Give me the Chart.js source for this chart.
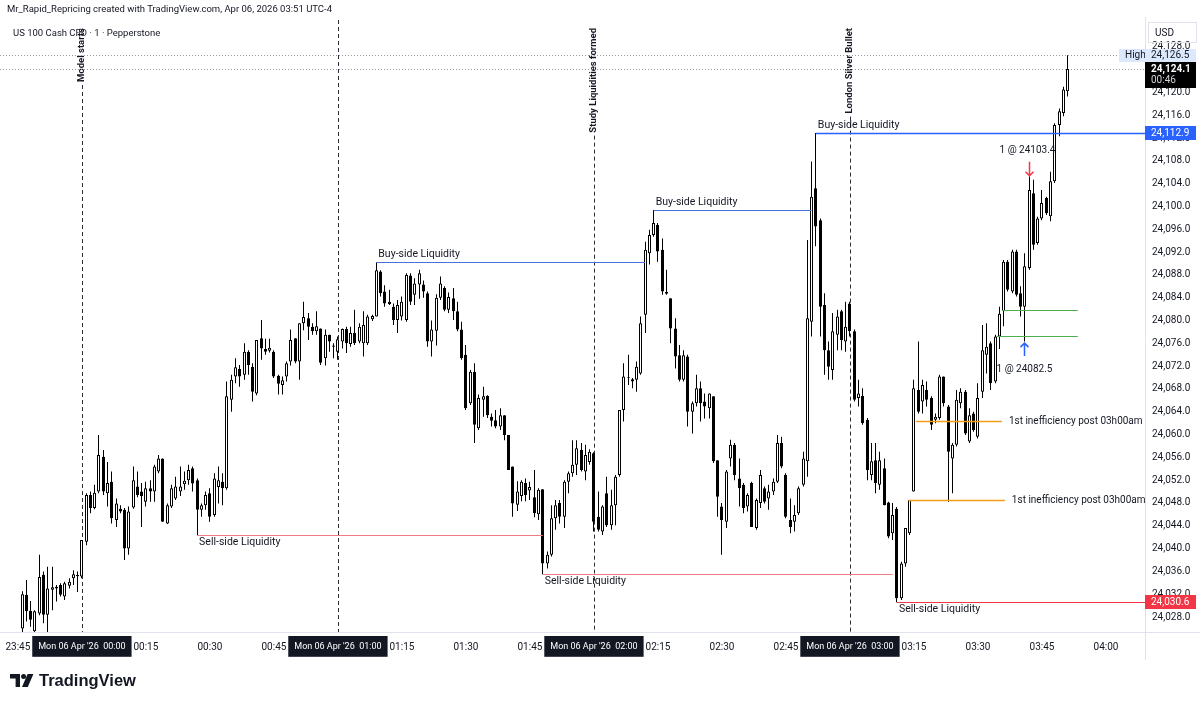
<!DOCTYPE html>
<html><head><meta charset="utf-8">
<script src="https://cdn.jsdelivr.net/npm/chart.js@4.4.1/dist/chart.umd.min.js"></script>
<style>
html,body{margin:0;padding:0;background:#fff;width:1200px;height:703px;overflow:hidden}
#wrap{position:relative;width:1200px;height:703px}
canvas{position:absolute;left:0;top:0}
.t{position:absolute;font-family:Roboto,sans-serif;color:#131722;white-space:nowrap;font-size:9.5px;line-height:12px}
.logo{position:absolute;left:10px;top:671px;display:flex;align-items:center;gap:5px;font-family:"Liberation Sans",Arial,sans-serif;font-weight:bold;font-size:16.5px;color:#131722}
</style></head><body>
<div id="wrap">
<canvas id="c" width="1200" height="703"></canvas>
<div class="t" style="left:7px;top:3px">Mr_Rapid_Repricing created with TradingView.com, Apr 06, 2026 03:51 UTC-4</div>
<div class="t" style="left:13px;top:27px">US 100 Cash CFD · 1 · Pepperstone</div>
<div class="logo"><svg width="24" height="17" viewBox="0 0 24 17"><path d="M0 2H10V15H5.6V6.4H0Z" fill="#131722"/><circle cx="13.6" cy="4.6" r="2.5" fill="#131722"/><path d="M17.6 2H23.4L17.8 15H12Z" fill="#131722"/></svg><span>TradingView</span></div>
</div>
<script>
// ---- data: one-minute candles, minutes counted from 23:45 ----
const firstMinute = 1;
const open = [
24026.0,24031.9,24029.1,24025.5,24028.6,24035.4,24028.4,24032.8,24033.0,24033.6,
24031.6,24033.5,24034.8,24035.2,24035.1,24041.2,24049.4,24047.1,24050.0,24056.1,
24049.7,24051.7,24045.0,24047.0,24046.8,24040.0,24047.2,24050.9,24050.0,24048.2,
24050.6,24050.0,24053.5,24055.8,24044.4,24047.4,24048.8,24050.0,24051.3,24052.0,
24054.1,24052.0,24046.8,24047.6,24049.7,24045.9,24050.8,24051.7,24050.6,24066.1,
24070.2,24071.5,24070.5,24074.5,24071.9,24067.2,24076.9,24075.0,24074.7,24074.5,
24070.3,24068.7,24070.2,24072.8,24076.9,24072.8,24079.5,24080.4,24078.9,24078.1,
24078.6,24073.4,24077.5,24075.6,24074.5,24076.3,24078.5,24075.9,24077.8,24076.3,
24076.0,24076.0,24080.2,24080.7,24088.6,24085.1,24083.3,24082.4,24080.1,24080.7,
24080.1,24087.9,24084.5,24086.3,24086.3,24084.8,24076.3,24078.2,24084.0,24085.7,
24081.9,24083.9,24081.6,24078.4,24074.0,24065.5,24071.0,24061.1,24066.1,24066.8,
24063.1,24062.5,24061.4,24063.4,24059.9,24054.4,24047.7,24049.2,24051.5,24050.2,
24049.0,24046.0,24050.4,24037.4,24038.9,24045.3,24048.0,24045.6,24051.7,24053.2,
24054.7,24057.3,24053.5,24055.2,24056.7,24045.6,24043.0,24049.7,24044.1,24047.6,
24052.9,24064.3,24070.0,24069.7,24069.6,24070.7,24081.0,24091.8,24095.0,24096.8,
24092.4,24085.0,24083.9,24078.6,24073.9,24069.6,24073.7,24064.0,24065.5,24068.1,
24065.8,24064.6,24066.7,24055.5,24047.4,24044.7,24055.8,24058.2,24052.3,24051.2,
24047.4,24051.5,24043.6,24048.0,24050.6,24048.8,24050.0,24051.7,24058.5,24052.9,
24045.0,24044.7,24046.2,24051.2,24055.3,24079.8,24103.2,24097.6,24082.7,24074.8,
24071.3,24077.5,24081.6,24076.3,24083.0,24078.1,24066.4,24066.8,24062.6,24052.9,
24055.5,24051.2,24054.1,24048.1,24042.7,24047.0,24031.3,24037.4,24042.7,24050.0,
24067.8,24065.8,24067.8,24066.4,24062.6,24062.9,24070.2,24064.9,24055.8,24058.2,
24065.5,24067.5,24058.8,24063.7,24059.6,24067.5,24074.0,24076.0,24069.3,24077.2,
24081.6,24090.3,24085.1,24092.1,24084.8,24082.4,24089.2,24102.3,24093.6,24097.9,
24101.5,24098.3,24104.4,24114.3,24116.4,24120.2];
const high = [
24032.5,24034.5,24030.8,24029.2,24038.9,24036.0,24036.8,24036.8,24033.6,24033.9,
24034.2,24034.8,24036.2,24036.0,24041.5,24049.7,24050.0,24051.2,24059.9,24057.3,
24055.2,24053.5,24048.8,24047.6,24047.1,24047.4,24054.4,24053.5,24051.5,24051.7,
24052.0,24054.7,24056.4,24055.8,24047.9,24051.2,24052.6,24054.4,24053.5,24054.7,
24054.4,24052.3,24047.9,24050.0,24050.6,24053.2,24054.4,24053.2,24069.3,24070.5,
24073.4,24072.2,24076.0,24074.8,24072.5,24076.6,24080.1,24076.8,24076.8,24074.8,
24070.5,24070.2,24072.8,24078.4,24076.9,24079.5,24083.3,24081.3,24079.5,24081.6,
24078.6,24078.4,24077.5,24076.0,24077.2,24078.6,24078.9,24078.9,24081.9,24079.5,
24081.6,24081.0,24081.0,24090.2,24088.8,24086.2,24085.4,24083.0,24083.6,24084.2,
24088.3,24088.3,24087.4,24088.9,24087.0,24085.1,24080.0,24084.6,24087.7,24086.0,
24084.9,24085.7,24083.3,24079.8,24075.7,24071.3,24072.5,24067.0,24068.4,24066.9,
24063.7,24064.3,24064.6,24063.4,24059.9,24054.4,24051.8,24052.0,24052.3,24051.7,
24053.8,24050.6,24050.4,24039.5,24047.6,24048.5,24048.5,24052.0,24053.5,24059.0,
24059.0,24058.5,24058.2,24057.4,24056.9,24050.0,24047.6,24052.6,24050.3,24052.9,
24064.3,24072.5,24074.0,24069.9,24072.8,24080.7,24093.8,24095.9,24099.4,24097.1,
24094.4,24088.9,24083.9,24080.4,24075.7,24074.8,24074.0,24065.8,24070.5,24069.3,
24067.2,24067.2,24066.7,24055.5,24048.0,24053.8,24059.1,24058.5,24055.8,24051.5,
24049.7,24051.7,24048.8,24053.8,24050.9,24051.2,24052.3,24059.9,24059.6,24053.2,
24048.8,24047.6,24050.9,24057.0,24094.1,24107.9,24112.9,24097.9,24084.8,24076.3,
24081.3,24081.9,24081.9,24083.3,24083.3,24078.4,24069.6,24068.1,24062.9,24058.5,
24058.5,24057.0,24055.8,24048.2,24048.0,24047.3,24037.7,24043.6,24048.5,24069.6,
24076.3,24069.6,24069.3,24066.7,24063.7,24070.5,24070.2,24065.2,24058.5,24067.8,
24068.1,24067.8,24064.6,24064.0,24069.0,24079.2,24079.5,24076.3,24077.5,24082.4,
24090.6,24090.6,24092.4,24092.4,24086.0,24091.8,24105.3,24104.7,24098.2,24102.9,
24101.7,24106.1,24114.6,24117.2,24121.0,24126.5];
const low = [
24025.0,24027.2,24026.3,24025.0,24028.3,24026.9,24025.0,24029.2,24030.7,24031.6,
24031.0,24033.0,24033.6,24032.4,24034.8,24040.6,24046.2,24046.9,24049.7,24049.4,
24047.4,24044.4,24043.8,24046.2,24038.0,24038.9,24047.0,24049.0,24043.8,24047.4,
24048.2,24048.2,24053.2,24044.7,24044.3,24047.1,24048.5,24049.2,24050.3,24051.2,
24050.0,24042.4,24045.6,24046.8,24044.7,24045.6,24047.9,24047.6,24050.3,24064.0,
24069.0,24068.4,24069.6,24070.5,24065.8,24066.9,24073.1,24074.0,24074.4,24069.9,
24067.0,24067.0,24069.3,24072.1,24072.5,24069.6,24078.3,24076.6,24077.5,24077.5,
24072.2,24072.1,24074.5,24073.4,24073.1,24075.1,24074.3,24075.4,24075.7,24076.0,
24073.7,24075.7,24079.9,24080.7,24084.2,24082.4,24082.7,24079.2,24077.8,24080.0,
24079.8,24082.7,24082.7,24083.8,24084.0,24075.4,24073.7,24075.6,24083.6,24081.6,
24081.3,24080.1,24078.1,24073.1,24064.3,24065.2,24058.5,24060.8,24063.1,24062.9,
24061.4,24061.1,24060.8,24059.0,24053.8,24045.6,24046.6,24048.3,24048.3,24048.5,
24045.5,24045.0,24035.5,24036.5,24038.6,24043.3,24044.4,24043.6,24049.7,24052.6,
24052.9,24053.5,24052.0,24054.7,24043.0,24043.0,24042.4,24043.8,24043.3,24044.1,
24052.6,24062.3,24068.7,24068.1,24067.5,24070.5,24077.8,24089.8,24094.7,24090.3,
24084.5,24084.5,24076.0,24071.6,24069.3,24069.3,24061.4,24060.2,24064.9,24062.3,
24062.8,24062.8,24055.0,24045.6,24038.9,24043.6,24054.4,24052.0,24047.4,24046.2,
24046.5,24043.8,24043.3,24047.1,24047.9,24046.8,24049.4,24051.5,24054.1,24045.3,
24042.7,24043.0,24045.9,24050.9,24052.6,24077.2,24093.0,24077.2,24070.5,24069.6,
24069.6,24074.8,24074.8,24074.5,24077.2,24065.8,24064.9,24061.7,24052.0,24052.0,
24049.7,24050.3,24047.6,24041.8,24041.5,24030.6,24031.0,24036.8,24042.4,24050.0,
24063.7,24063.7,24064.9,24060.8,24062.0,24062.6,24064.9,24048.2,24049.7,24057.9,
24064.6,24059.9,24058.5,24060.5,24059.3,24066.4,24070.7,24067.8,24069.0,24075.0,
24079.0,24085.1,24084.8,24084.2,24080.7,24076.3,24088.9,24092.4,24093.3,24097.6,
24098.5,24097.4,24104.1,24112.3,24115.8,24119.3];
const close = [
24032.0,24029.0,24027.5,24029.0,24035.0,24028.4,24033.0,24033.2,24033.3,24031.9,
24033.9,24034.2,24035.5,24035.3,24041.5,24049.4,24047.1,24049.8,24056.4,24050.0,
24051.5,24045.3,24047.9,24046.5,24040.0,24046.5,24052.0,24049.4,24049.2,24050.6,
24050.0,24054.4,24055.8,24044.7,24047.6,24050.6,24050.9,24050.9,24051.9,24053.8,
24051.4,24046.8,24047.6,24049.4,24045.6,24052.3,24052.0,24050.6,24066.7,24069.6,
24071.8,24070.2,24074.5,24072.2,24067.5,24076.6,24075.1,24074.5,24075.2,24070.2,
24068.9,24069.5,24072.5,24076.6,24072.8,24079.5,24080.6,24078.9,24078.1,24079.0,
24072.6,24077.5,24076.3,24075.4,24076.7,24078.5,24076.0,24077.8,24076.0,24078.9,
24079.2,24080.7,24080.8,24088.8,24084.8,24083.0,24082.9,24080.1,24082.7,24083.3,
24088.0,24083.3,24086.5,24088.3,24085.1,24076.3,24078.4,24084.0,24086.5,24081.9,
24084.1,24081.6,24078.4,24073.4,24064.6,24071.0,24061.7,24066.4,24066.7,24063.4,
24062.4,24061.4,24063.4,24059.9,24053.8,24047.9,24050.0,24051.7,24049.4,24050.8,
24046.2,24050.3,24037.4,24038.9,24045.3,24047.6,24045.6,24051.7,24053.2,24054.7,
24057.6,24053.8,24056.4,24057.0,24044.7,24043.3,24047.4,24044.1,24047.6,24052.6,
24064.3,24070.2,24069.9,24069.3,24071.9,24079.5,24092.4,24095.0,24097.1,24092.1,
24085.1,24084.7,24078.6,24073.7,24069.6,24073.9,24064.0,24065.5,24068.1,24065.5,
24064.9,24067.2,24055.3,24049.1,24045.0,24053.5,24058.2,24052.9,24050.6,24047.1,
24049.4,24043.8,24048.5,24052.9,24048.2,24050.0,24051.7,24058.5,24054.4,24045.6,
24043.8,24045.9,24050.6,24055.8,24080.4,24101.7,24096.5,24082.4,24074.8,24071.9,
24078.1,24080.7,24076.6,24078.9,24078.1,24066.1,24067.2,24062.0,24053.8,24055.3,
24051.5,24055.5,24047.6,24042.1,24045.9,24031.3,24037.4,24043.6,24048.5,24068.1,
24064.0,24068.7,24066.1,24061.7,24063.1,24070.2,24065.5,24057.0,24058.2,24066.1,
24067.5,24060.2,24063.4,24060.8,24066.4,24074.8,24075.4,24069.0,24077.2,24081.2,
24090.3,24085.4,24092.1,24084.5,24082.4,24089.5,24102.9,24093.3,24097.9,24100.6,
24098.8,24104.4,24114.3,24116.7,24120.5,24124.1];

// ---- axes ----
const tickMinutes = [0,15,30,45,60,75,90,105,120,135,150,165,180,195,210,225,240,255];
const tickLabels = ['23:45',"Mon 06 Apr '26  00:00",'00:15','00:30','00:45',"Mon 06 Apr '26  01:00",'01:15','01:30','01:45',"Mon 06 Apr '26  02:00",'02:15','02:30','02:45',"Mon 06 Apr '26  03:00",'03:15','03:30','03:45','04:00'];
const tickBoxed = [false,true,false,false,false,true,false,false,false,true,false,false,false,true,false,false,false,false];
const priceTicks = [24028,24032,24036,24040,24044,24048,24052,24056,24060,24064,24068,24072,24076,24080,24084,24088,24092,24096,24100,24104,24108,24112,24116,24120,24124,24128];

// ---- annotations ----
const sessionMinute = [15, 75, 135, 195];
const sessionNote = ['Model starts', '', 'Study Liquidities formed', 'London Silver Bullet'];
const levelSide  = ['buy','buy','buy','sell','sell','sell'];
const levelPrice = [24090.2, 24099.4, 24112.9, 24042.4, 24035.5, 24030.6];
const levelFrom  = [84, 149, 187, 42, 123, 206];
const levelTo    = [147, 186, null, 123, 205, null];
const levelLabel = ['Buy-side Liquidity','Buy-side Liquidity','Buy-side Liquidity','Sell-side Liquidity','Sell-side Liquidity','Sell-side Liquidity'];
const ineffPrice = [24062.3, 24048.5];
const ineffFrom  = [210.5, 208.7];
const ineffTo    = [230.6, 231.3];
const ineffLabel = ['1st inefficiency post 03h00am', '1st inefficiency post 03h00am'];
const greenPrice = [24081.9, 24077.3];
const greenFrom  = [230.6, 229.4];
const greenTo    = [248.4, 248.4];
const tradeMinute = [237, 236];
const tradeSide  = ['sell', 'buy'];
const tradePrice = [24103.4, 24082.5];
const highPrice = 24126.5, lastPrice = 24124.1, lastCountdown = '00:46';

const fontFam = 'Roboto, sans-serif';
Chart.defaults.font.family = fontFam;
const fmt = v => v.toLocaleString('en-US', {minimumFractionDigits:1, maximumFractionDigits:1});

const bodyData = [], wickData = [], bodyFill = [];
for (let k = 0; k < close.length; k++) {
  const o = open[k], c = close[k];
  let lo = Math.min(o, c), hi = Math.max(o, c);
  if (hi - lo < 0.2) { const m = (hi + lo) / 2; lo = m - 0.1; hi = m + 0.1; }
  bodyData.push({x: firstMinute + k, y: [lo, hi]});
  wickData.push({x: firstMinute + k, y: [low[k], high[k]]});
  bodyFill.push(c >= o ? '#ffffff' : '#000000');
}

function tag(ctx, x0, x1, yc, h, bg, text, fg) {
  ctx.fillStyle = bg;
  ctx.fillRect(x0, Math.round(yc - h / 2), x1 - x0, h);
  ctx.fillStyle = fg;
  ctx.textAlign = 'left'; ctx.textBaseline = 'middle';
  ctx.font = '10px ' + fontFam;
  ctx.fillText(text, x0 + 6, yc + 0.5);
}

const overlay = {
  id: 'overlay',
  afterDatasetsUpdate(chart) {
    // snap candle centres to the pixel grid so bodies and wicks render crisply
    chart.data.datasets.forEach((ds, i) => {
      chart.getDatasetMeta(i).data.forEach(el => { el.x = Math.floor(el.x) + 0.5; });
    });
  },
  beforeDatasetsDraw(chart) {
    const {ctx, chartArea: a, scales: {x, y}} = chart;
    ctx.save();
    sessionMinute.forEach((m, k) => {
      const px = Math.round(x.getPixelForValue(m)) + 0.5;
      let top = a.top;
      if (sessionNote[k]) {
        ctx.save();
        ctx.font = 'bold 9.5px ' + fontFam;
        const w = ctx.measureText(sessionNote[k]).width;
        ctx.translate(px - 0.5, a.top + 8);
        ctx.rotate(-Math.PI / 2);
        ctx.textAlign = 'right'; ctx.textBaseline = 'middle'; ctx.fillStyle = '#131722';
        ctx.fillText(sessionNote[k], 0, 0);
        ctx.restore();
        top = a.top + 8 + w + 3;
      }
      ctx.beginPath(); ctx.setLineDash([4, 3]); ctx.strokeStyle = '#2a2e39'; ctx.lineWidth = 1;
      ctx.moveTo(px, top); ctx.lineTo(px, a.bottom); ctx.stroke();
    });
    ctx.setLineDash([1, 2]); ctx.strokeStyle = '#9598a1'; ctx.lineWidth = 1;
    let yy = Math.round(y.getPixelForValue(highPrice)) + 0.5;
    ctx.beginPath(); ctx.moveTo(a.left, yy); ctx.lineTo(a.right - 25, yy); ctx.stroke();
    yy = Math.round(y.getPixelForValue(lastPrice)) + 0.5;
    ctx.beginPath(); ctx.moveTo(a.left, yy); ctx.lineTo(a.right, yy); ctx.stroke();
    ctx.restore();
  },
  afterDatasetsDraw(chart) {
    const {ctx, chartArea: a, scales: {x, y}} = chart;
    ctx.save();
    ctx.beginPath(); ctx.rect(a.left, a.top, a.right - a.left, a.bottom - a.top); ctx.clip();
    ctx.font = '10.5px ' + fontFam; ctx.textBaseline = 'middle'; ctx.textAlign = 'left';
    levelPrice.forEach((p, k) => {
      const py = Math.round(y.getPixelForValue(p)) + 0.5;
      const x0 = x.getPixelForValue(levelFrom[k]);
      const x1 = levelTo[k] === null ? a.right : x.getPixelForValue(levelTo[k]);
      const last = levelTo[k] === null;
      const col = levelSide[k] === 'buy' ? (last ? '#2962ff' : '#4a72d9') : (last ? '#f23645' : '#ef7d86');
      ctx.strokeStyle = col; ctx.lineWidth = last && levelSide[k] === 'buy' ? 1.5 : 1;
      ctx.beginPath(); ctx.moveTo(x0, py); ctx.lineTo(x1, py); ctx.stroke();
      ctx.fillStyle = '#131722';
      ctx.fillText(levelLabel[k], x0 + 2, levelSide[k] === 'buy' ? py - 8 : py + 7);
    });
    ctx.font = '10px ' + fontFam;
    ineffPrice.forEach((p, k) => {
      const py = Math.round(y.getPixelForValue(p)) + 0.5;
      const x0 = x.getPixelForValue(ineffFrom[k]), x1 = x.getPixelForValue(ineffTo[k]);
      ctx.strokeStyle = '#f59b1c'; ctx.lineWidth = 1.5;
      ctx.beginPath(); ctx.moveTo(x0, py); ctx.lineTo(x1, py); ctx.stroke();
      ctx.fillStyle = '#131722';
      ctx.fillText(ineffLabel[k], x1 + 7, py);
    });
    greenPrice.forEach((p, k) => {
      const py = Math.round(y.getPixelForValue(p)) + 0.5;
      ctx.strokeStyle = '#4caf50'; ctx.lineWidth = 1;
      ctx.beginPath(); ctx.moveTo(x.getPixelForValue(greenFrom[k]), py); ctx.lineTo(x.getPixelForValue(greenTo[k]), py); ctx.stroke();
    });
    tradeMinute.forEach((m, k) => {
      const px = Math.floor(x.getPixelForValue(m)) + 0.5;
      const idx = m - firstMinute;
      ctx.lineWidth = 1.5; ctx.fillStyle = '#131722'; ctx.textAlign = 'center';
      const label = '1 @ ' + tradePrice[k].toFixed(1);
      if (tradeSide[k] === 'sell') {
        const tip = y.getPixelForValue(high[idx]) - 0.5, top = tip - 14;
        ctx.strokeStyle = '#f23645';
        ctx.beginPath(); ctx.moveTo(px, top); ctx.lineTo(px, tip); ctx.moveTo(px - 4, tip - 4); ctx.lineTo(px, tip); ctx.lineTo(px + 4, tip - 4); ctx.stroke();
        ctx.fillText(label, px - 2, top - 11);
      } else {
        const tip = y.getPixelForValue(low[idx]) + 1.5, bot = tip + 13;
        ctx.strokeStyle = '#2962ff';
        ctx.beginPath(); ctx.moveTo(px, bot); ctx.lineTo(px, tip); ctx.moveTo(px - 4, tip + 4); ctx.lineTo(px, tip); ctx.lineTo(px + 4, tip + 4); ctx.stroke();
        ctx.fillText(label, px, bot + 13);
      }
      ctx.textAlign = 'left';
    });
    ctx.restore();
  },
  afterDraw(chart) {
    const {ctx, chartArea: a, scales: {x, y}} = chart;
    ctx.save();
    ctx.strokeStyle = '#e0e3eb'; ctx.lineWidth = 1;
    ctx.beginPath(); ctx.moveTo(0, a.bottom + 0.5); ctx.lineTo(1200, a.bottom + 0.5);
    ctx.moveTo(a.right + 0.5, a.top - 3); ctx.lineTo(a.right + 0.5, a.bottom + 28); ctx.stroke();
    ctx.strokeRect(a.right + 3.5, 22.5, 48, 20);
    ctx.fillStyle = '#131722'; ctx.font = '10px ' + fontFam; ctx.textBaseline = 'middle'; ctx.textAlign = 'left';
    ctx.fillText('USD', a.right + 10, 33);
    const R = 1196;
    const yh = y.getPixelForValue(highPrice);
    tag(ctx, a.right - 26, a.right, yh, 13, '#dce8fb', 'High', '#131722');
    tag(ctx, a.right, R, yh, 13, '#dce8fb', fmt(highPrice), '#131722');
    const yl = y.getPixelForValue(lastPrice);
    ctx.fillStyle = '#000';
    ctx.fillRect(a.right, Math.round(yl - 7), R - a.right, 26);
    ctx.fillStyle = '#fff'; ctx.font = 'bold 10px ' + fontFam;
    ctx.fillText(fmt(lastPrice), a.right + 6, yl);
    ctx.font = '10px ' + fontFam; ctx.fillStyle = '#d1d4dc';
    ctx.fillText(lastCountdown, a.right + 6, yl + 11);
    const levelTagColor = {buy: '#2962ff', sell: '#f23645'};
    levelPrice.forEach((p, k) => {
      if (levelTo[k] === null) tag(ctx, a.right, R, y.getPixelForValue(p), 14, levelTagColor[levelSide[k]], fmt(p), '#fff');
    });
    ctx.restore();
  }
};

new Chart(document.getElementById('c'), {
  type: 'bar',
  data: { datasets: [
    {label: 'body', data: bodyData, backgroundColor: bodyFill, borderColor: '#000', borderWidth: 1, borderSkipped: false,
     barThickness: 3, grouped: false, order: 0, inflateAmount: 0, clip: 0},
    {label: 'wick', data: wickData, backgroundColor: '#000', borderWidth: 0, barThickness: 1,
     grouped: false, order: 1, inflateAmount: 0, clip: 0}
  ]},
  options: {
    responsive: false, animation: false, events: [], devicePixelRatio: 1,
    layout: {padding: {top: 20, bottom: 43, left: 0, right: 0}},
    plugins: {legend: {display: false}, tooltip: {enabled: false}},
    scales: {
      x: {type: 'linear', min: -4.195, max: 264.14, offset: false,
          grid: {display: false, drawTicks: false}, border: {display: false},
          afterBuildTicks: ax => { ax.ticks = tickMinutes.map(v => ({value: v})); },
          afterFit: ax => { ax.height = 28; ax.paddingLeft = 0; ax.paddingRight = 0; },
          ticks: {autoSkip: false, maxRotation: 0, minRotation: 0, padding: 9,
                  font: c => ({size: tickBoxed[c.index] ? 9 : 10}),
                  color: c => tickBoxed[c.index] ? '#ffffff' : '#131722',
                  showLabelBackdrop: c => tickBoxed[c.index], backdropColor: '#131722',
                  backdropPadding: {left: 6, right: 6, top: 5, bottom: 5},
                  callback: (v, i) => tickLabels[i]}},
      y: {type: 'linear', position: 'right', min: 24025.37, max: 24132.7,
          grid: {display: false, drawTicks: false}, border: {display: false},
          afterBuildTicks: ax => { ax.ticks = priceTicks.map(v => ({value: v})); },
          afterFit: ax => { ax.width = 55; ax.paddingTop = 0; ax.paddingBottom = 0; },
          ticks: {padding: 7, font: {size: 10}, color: '#131722', callback: v => fmt(v)}}
    }
  },
  plugins: [overlay]
});
</script>
</body></html>
